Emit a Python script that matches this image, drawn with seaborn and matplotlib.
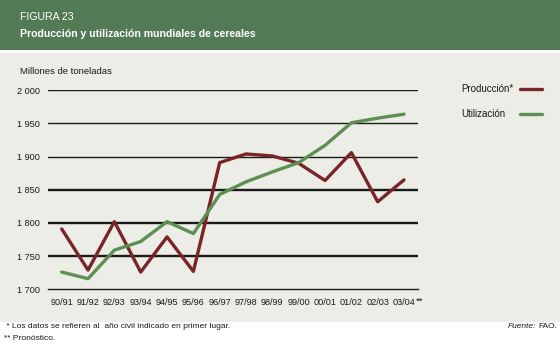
import matplotlib
matplotlib.use("Agg")
import matplotlib.pyplot as plt
from matplotlib.patches import Rectangle
from matplotlib.lines import Line2D
import seaborn as sns
import pandas as pd

# ---- data ----
years = ["90/91", "91/92", "92/93", "93/94", "94/95", "95/96", "96/97",
         "97/98", "98/99", "99/00", "00/01", "01/02", "02/03", "03/04"]
produccion = [1791, 1729, 1802, 1726, 1779, 1727, 1891,
              1904, 1901, 1890, 1864, 1906, 1832, 1865]
utilizacion = [1726, 1716, 1759, 1772, 1802, 1784, 1843,
               1862, 1877, 1891, 1917, 1951, 1958, 1964]
series_names = ["Producción*", "Utilización"]
yticks = [1700, 1750, 1800, 1850, 1900, 1950, 2000]
ytick_labels = ["1 700", "1 750", "1 800", "1 850", "1 900", "1 950", "2 000"]

df = pd.DataFrame({
    "x": list(range(len(years))) * 2,
    "valor": produccion + utilizacion,
    "serie": [series_names[0]] * len(years) + [series_names[1]] * len(years),
})

# ---- style ----
sns.set_style("white")
plt.rcParams["font.family"] = ["Liberation Sans Narrow", "Liberation Sans", "DejaVu Sans"]
REG = ["Liberation Sans", "DejaVu Sans"]

W, H = 560, 346
HEADER_GREEN = "#527B55"
PANEL = "#EBEDE6"
RED = "#7A2427"
GREEN = "#5E8F52"
INK = "#1a1a1a"

fig = plt.figure(figsize=(W / 100, H / 100), dpi=100)
fig.patch.set_facecolor("white")

# header band
fig.patches.append(Rectangle((0, 1 - 50 / H), 1, 50 / H, transform=fig.transFigure,
                             facecolor=HEADER_GREEN, edgecolor="none", zorder=-10))
# chart panel
fig.patches.append(Rectangle((0, 1 - 322 / H), 1, (322 - 53) / H, transform=fig.transFigure,
                             facecolor=PANEL, edgecolor="none", zorder=-10))

fig.text(20 / W, 1 - 17 / H, "FIGURA 23", color="white", fontsize=7.6,
         family=REG, va="center", ha="left")
fig.text(20 / W, 1 - 34 / H, "Producción y utilización mundiales de cereales", color="white",
         fontsize=7.6, fontweight="bold", family=REG, va="center", ha="left")

ax = fig.add_axes([48 / W, 1 - 289.3 / H, 370 / W, (289.3 - 90.3) / H])
ax.set_facecolor("none")
ax.set_zorder(5)

# gridlines
for v in yticks[1:]:
    ax.axhline(v, color=INK, lw=1.7 if v <= 1850 else 1.0, zorder=1)

sns.lineplot(data=df, x="x", y="valor", hue="serie", palette=[RED, GREEN],
             linewidth=2.4, ax=ax, legend=False, zorder=3)

ax.set_xlim(-0.52, len(years) - 1 + 0.53)
ax.set_ylim(yticks[0], yticks[-1])
ax.set_xticks(range(len(years)))
ax.set_xticklabels(years)
ax.set_yticks(yticks)
ax.set_yticklabels(ytick_labels)
ax.set_xlabel("")
ax.set_ylabel("")
for s in ["top", "right", "left"]:
    ax.spines[s].set_visible(False)
ax.spines["bottom"].set_color(INK)
ax.spines["bottom"].set_linewidth(1.0)
ax.tick_params(axis="x", direction="out", length=4.3, width=1.4, color=INK,
               pad=2.0, labelsize=6.6, labelcolor=INK)
ax.tick_params(axis="y", length=0, pad=5.8, labelsize=6.6, labelcolor=INK)

ax.annotate("**", xy=(len(years) - 1, 0), xycoords=("data", "axes fraction"),
            xytext=(8.6, -5.6), textcoords="offset points", fontsize=6.8, color=INK,
            family=REG, ha="left", va="top")

fig.text(20 / W, 1 - 72 / H, "Millones de toneladas", fontsize=6.8, color=INK,
         family=REG, va="center", ha="left")

# legend (text left, line right)
colors = [RED, GREEN]
for i, name in enumerate(series_names):
    yy = 1 - (89.3 + 24.5 * i) / H
    fig.text(461 / W, yy, name, fontsize=7, family=REG, color=INK, va="center", ha="left")
    fig.lines.append(Line2D([520 / W, 542 / W], [yy, yy], transform=fig.transFigure,
                            color=colors[i], lw=2.4, solid_capstyle="round"))

# footnotes
fig.text(4 / W, 1 - 327 / H, " * Los datos se refieren al  año civil indicado en primer lugar.",
         fontsize=6.0, color=INK, va="center", ha="left")
fig.text(4 / W, 1 - 338 / H, "** Pronóstico.", fontsize=6.0, color=INK,
         va="center", ha="left")
fao = fig.text(557 / W, 1 - 327 / H, "FAO.", fontsize=6.0, color=INK, va="center", ha="right")
fig.canvas.draw()
wpx = fao.get_window_extent().width
fig.text((557 - wpx - 1.5) / W, 1 - 327 / H, "Fuente:", fontsize=6.0, style="italic", color=INK,
         va="center", ha="right")

fig.savefig("out.png", dpi=100)
